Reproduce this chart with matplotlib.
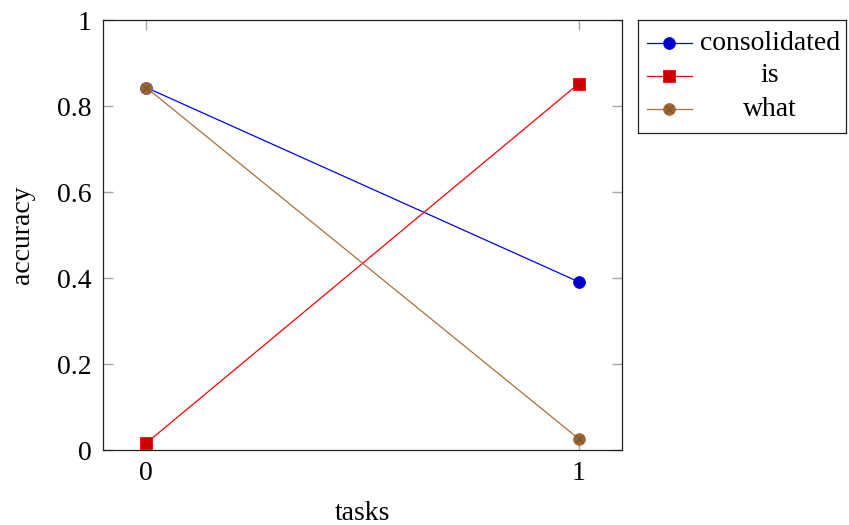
import matplotlib.pyplot as plt
from matplotlib.lines import Line2D

plt.rcParams['font.family'] = ['Liberation Serif', 'DejaVu Serif']

tasks = [0, 1]
consolidated = [0.843, 0.391]
is_acc = [0.016, 0.852]
what = [0.843, 0.026]

series = [
    # label, values, line color, marker, face color
    ('consolidated', consolidated, '#0000ff', 'o', '#0000cc'),
    ('is', is_acc, '#ff0000', 's', '#cc0000'),
    ('what', what, '#a8703c', 'o', '#996633'),
]

fig = plt.figure(figsize=(8.49, 5.25), dpi=100)
W, H = 849, 525
ax = fig.add_axes([103 / W, 1 - 450 / H, (622 - 103) / W, (450 - 20) / H])

for name, vals, col, mk, fc in series:
    ax.plot(tasks, vals, color=col, lw=0.9, marker=mk, markersize=8.5 if mk == 'o' else 8,
            markerfacecolor=fc, markeredgecolor=col, markeredgewidth=0.6, zorder=3)
    if name == 'what':
        ax.plot(tasks, vals, ls='none', marker='x', markersize=5.5, color='#6b4723',
                markeredgewidth=0.5, zorder=4)

ax.set_xlim(-0.1, 1.1)
ax.set_ylim(0, 1)
ax.set_xticks([0, 1])
ax.set_yticks([0, 0.2, 0.4, 0.6, 0.8, 1])
ax.set_yticklabels(['0', '0.2', '0.4', '0.6', '0.8', '1'])
ax.tick_params(direction='in', length=7, width=1, color='#a8a8a8', labelsize=20,
               top=True, right=True, pad=8)
for s in ax.spines.values():
    s.set_color('#202020')
    s.set_linewidth(0.9)
ax.set_xlabel('tasks', fontsize=20, va='center')
ax.set_ylabel('accuracy', fontsize=20, va='center')
ax.xaxis.set_label_coords(0.5, (450 - 513) / 430)
ax.yaxis.set_label_coords((22 - 103) / 519, 0.5)

# legend box, pgfplots style with centred text
lax = fig.add_axes([638 / W, 1 - 133 / H, (846 - 638) / W, (133 - 20) / H])
lax.set_xlim(638, 846)
lax.set_ylim(133, 20)
lax.set_xticks([])
lax.set_yticks([])
for s in lax.spines.values():
    s.set_color('#202020')
    s.set_linewidth(0.9)
rows = [43, 76, 109]
for (name, vals, col, mk, fc), yy in zip(series, rows):
    lax.add_line(Line2D([647, 692], [yy, yy], color=col, lw=0.9))
    lax.plot([669], [yy], marker=mk, markersize=8.5 if mk == 'o' else 8,
             markerfacecolor=fc, markeredgecolor=col, markeredgewidth=0.6)
    if name == 'what':
        lax.plot([669], [yy], marker='x', markersize=5.5, color='#6b4723', markeredgewidth=0.5)
    lax.text(770, yy, name, fontsize=20, ha='center', va='center')

fig.savefig('out.png', dpi=100)
